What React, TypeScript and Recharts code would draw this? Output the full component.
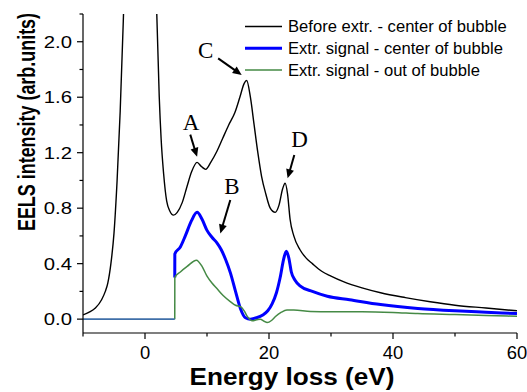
import React from 'react';
import { LineChart, Line, XAxis, YAxis, ReferenceLine, ReferenceDot, Legend } from 'recharts';

// ---- data (energy loss in eV, intensity in arb. units) ----
const beforeEnergy = [-10, -9, -8, -7, -6.4, -6, -5.5, -5, -4.5, -4, -3.5, -3, -2, -1, 0, 1, 1.5, 1.9, 2.3, 2.6, 3, 3.5, 4, 4.6, 5.2, 6, 6.8, 7.5, 8.4, 9.1, 9.8, 10.6, 11.6, 12.5, 13.5, 14.5, 15.3, 16.0, 16.4, 17, 17.6, 18.2, 18.8, 19.5, 20.2, 21.0, 21.6, 22.2, 22.6, 23.0, 23.4, 24, 25, 26, 27, 28.5, 30, 32, 35, 38, 42, 46, 50, 55, 60];
const beforeIntensity = [0.03, 0.05, 0.08, 0.14, 0.2, 0.26, 0.4, 0.62, 1.0, 1.5, 2.15, 2.9, 5, 6, 5.5, 3.8, 3.0, 2.2, 1.6, 1.3, 1.05, 0.85, 0.78, 0.75, 0.77, 0.84, 0.96, 1.06, 1.13, 1.1, 1.08, 1.13, 1.21, 1.3, 1.4, 1.49, 1.6, 1.7, 1.72, 1.6, 1.4, 1.2, 1.03, 0.9, 0.8, 0.77, 0.82, 0.94, 0.98, 0.9, 0.72, 0.6, 0.5, 0.44, 0.4, 0.345, 0.31, 0.27, 0.225, 0.19, 0.155, 0.125, 0.1, 0.08, 0.06];

const centerEnergy = [4.8, 4.81, 5.7, 6.5, 7.5, 8.4, 9.2, 10, 10.8, 11.6, 12.3, 13, 13.8, 14.6, 15.4, 16.2, 17, 18, 19, 19.8, 20.5, 21.2, 21.8, 22.4, 22.8, 23.2, 23.6, 24.2, 25, 27, 29.4, 33, 38, 44, 50, 55, 60];
const centerIntensity = [0.3, 0.47, 0.52, 0.6, 0.71, 0.77, 0.72, 0.64, 0.59, 0.55, 0.5, 0.43, 0.33, 0.2, 0.075, 0.01, 0.0, 0.01, 0.03, 0.06, 0.11, 0.19, 0.3, 0.44, 0.49, 0.44, 0.34, 0.28, 0.24, 0.2, 0.165, 0.14, 0.105, 0.077, 0.06, 0.05, 0.04];

const outEnergy = [4.8, 4.81, 5.7, 6.8, 8.3, 9.2, 10, 10.8, 11.6, 12.6, 13.8, 14.6, 15.4, 16, 16.5, 17.3, 18, 18.6, 19.2, 19.7, 20.4, 21, 22, 22.9, 24, 26.7, 30, 35, 40, 44, 50, 55, 60];
const outIntensity = [0.0, 0.3, 0.34, 0.38, 0.425, 0.38, 0.31, 0.26, 0.22, 0.17, 0.125, 0.1, 0.09, 0.06, 0.02, -0.012, -0.005, 0.0, -0.015, -0.025, -0.01, 0.017, 0.05, 0.065, 0.065, 0.055, 0.053, 0.053, 0.048, 0.04, 0.033, 0.027, 0.02];

const baselineEnergy = [-10, 4.8];
const baselineIntensity = [0, 0];

const xTicks = [-10, 0, 10, 20, 30, 40, 50, 60];
const xMajor = [0, 20, 40, 60];
const yTicks = [0, 0.2, 0.4, 0.6, 0.8, 1.0, 1.2, 1.4, 1.6, 1.8, 2.0, 2.2];
const yMajor = [0, 0.4, 0.8, 1.2, 1.6, 2.0];

const annotations = [
  { label: 'A', lx: 7.44, ly: 1.418, x1: 7.3, y1: 1.33, x2: 8.4, y2: 1.17 },
  { label: 'B', lx: 14.03, ly: 0.955, x1: 13.76, y1: 0.859, x2: 12.15, y2: 0.618 },
  { label: 'C', lx: 9.8, ly: 1.94, x1: 11.8, y1: 1.88, x2: 15.6, y2: 1.76 },
  { label: 'D', lx: 24.94, ly: 1.297, x1: 24.08, y1: 1.183, x2: 23.0, y2: 1.015 },
];

const zip = (xs: number[], ys: number[]) => xs.map((e, i) => ({ e, v: ys[i] }));

const beforeData = zip(beforeEnergy, beforeIntensity);
const centerData = zip(centerEnergy, centerIntensity);
const outData = zip(outEnergy, outIntensity);
const baselineData = zip(baselineEnergy, baselineIntensity);

const SANS = '"Liberation Sans", Arial, sans-serif';
const SERIF = '"Liberation Serif", "Times New Roman", serif';

const isMajor = (list: number[], v: number) => list.some((m) => Math.abs(m - v) < 1e-6);

const X_OFF = 14;
const XTick = (props: any) => {
  const { x, y, payload } = props;
  const v = payload.value;
  const major = isMajor(xMajor, v);
  const ay = y - X_OFF;
  return (
    <g>
      <line x1={x} x2={x} y1={ay} y2={ay + (major ? 6 : 3.5)} stroke="#000" strokeWidth={1.2} />
      {major && (
        <text
          transform={`translate(${x},${y}) scale(1.05,1)`}
          dy="0.71em"
          textAnchor="middle"
          fontSize={17.5}
          fontFamily={SANS}
          fill="#000"
        >
          {v}
        </text>
      )}
    </g>
  );
};

const Y_OFF = 11;
const YTick = (props: any) => {
  const { x, y, payload } = props;
  const v = payload.value;
  const major = isMajor(yMajor, v);
  const ax = x + Y_OFF;
  return (
    <g>
      <line x1={ax} x2={ax - (major ? 6 : 3.5)} y1={y} y2={y} stroke="#000" strokeWidth={1.2} />
      {major && (
        <text
          transform={`translate(${x},${y}) scale(1.18,1)`}
          dy="0.36em"
          textAnchor="end"
          fontSize={17.2}
          fontFamily={SANS}
          fill="#000"
        >
          {v.toFixed(1)}
        </text>
      )}
    </g>
  );
};

const Arrow = (props: any) => {
  const { x1, y1, x2, y2 } = props;
  const dx = x2 - x1;
  const dy = y2 - y1;
  const len = Math.sqrt(dx * dx + dy * dy) || 1;
  const ux = dx / len;
  const uy = dy / len;
  const hl = 9;
  const hw = 4;
  const bx = x2 - ux * hl;
  const by = y2 - uy * hl;
  const pts = `${x2},${y2} ${bx - uy * hw},${by + ux * hw} ${bx + uy * hw},${by - ux * hw}`;
  return (
    <g>
      <line x1={x1} y1={y1} x2={bx + ux * 1} y2={by + uy * 1} stroke="#000" strokeWidth={2} />
      <polygon points={pts} fill="#000" />
    </g>
  );
};

const LegendContent = (props: any) => {
  const items = (props.payload || []).filter((p: any) => p.type !== 'none');
  return (
    <svg width={285} height={72} style={{ display: 'block', overflow: 'visible' }}>
      {items.map((it: any, i: number) => {
        const cy = 13.5 + i * 21.7;
        return (
          <g key={i}>
            <line x1={5} x2={42} y1={cy} y2={cy} stroke={it.color} strokeWidth={it.payload?.strokeWidth ?? 1.5} />
            <text x={48} y={cy} dy="0.36em" fontSize={16.6} fontFamily={SANS} fill="#000">
              {it.value}
            </text>
          </g>
        );
      })}
    </svg>
  );
};

export default function App() {
  return (
    <div style={{ position: 'absolute', left: 0, top: 0, width: 527, height: 392, background: '#fff' }}>
      <LineChart width={527} height={392} margin={{ top: 14, right: 10, bottom: 0, left: 0 }}>
        <XAxis
          dataKey="e"
          type="number"
          domain={[-10, 60]}
          ticks={xTicks}
          allowDataOverflow
          height={59}
          tickLine={false}
          tickSize={0}
          tickMargin={X_OFF}
          tick={<XTick />}
          axisLine={{ stroke: '#000', strokeWidth: 1.2 }}
          interval={0}
          label={{
            content: (p: any) => {
              const vb = p.viewBox;
              return (
                <text
                  transform={`translate(${vb.x + vb.width / 2 - 8},385) scale(1.09,1)`}
                  textAnchor="middle"
                  fontSize={24}
                  fontWeight="bold"
                  fontFamily={SANS}
                  fill="#000"
                >
                  Energy loss (eV)
                </text>
              );
            },
          }}
        />
        <XAxis
          xAxisId="top"
          orientation="top"
          type="number"
          domain={[-10, 60]}
          height={0}
          tick={false}
          tickLine={false}
          axisLine={{ stroke: '#000', strokeWidth: 1.2 }}
        />
        <YAxis
          type="number"
          domain={[-0.1, 2.2]}
          ticks={yTicks}
          allowDataOverflow
          width={83}
          tickLine={false}
          tickSize={0}
          tickMargin={Y_OFF}
          tick={<YTick />}
          interval={0}
          axisLine={{ stroke: '#000', strokeWidth: 1.2 }}
          label={{
            content: () => (
              <text
                transform="translate(35, 122) rotate(-90) scale(0.78,1)"
                textAnchor="middle"
                fontSize={23}
                fontWeight="bold"
                fontFamily={SANS}
                fill="#000"
              >
                EELS intensity (arb.units)
              </text>
            ),
          }}
        />
        <YAxis
          yAxisId="right"
          orientation="right"
          type="number"
          domain={[-0.1, 2.2]}
          width={0}
          tick={false}
          tickLine={false}
          axisLine={{ stroke: '#000', strokeWidth: 1.2 }}
        />
        <Legend
          layout="vertical"
          align="center"
          verticalAlign="middle"
          content={<LegendContent />}
          wrapperStyle={{ position: 'absolute', left: 240, top: 13, width: 285, height: 72 }}
        />
        <Line
          data={beforeData}
          dataKey="v"
          name="Before extr. - center of bubble"
          type="monotone"
          stroke="#000000"
          strokeWidth={1.4}
          dot={false}
          activeDot={false}
          isAnimationActive={false}
        />
        <Line
          data={centerData}
          dataKey="v"
          name="Extr. signal - center of bubble"
          type="monotone"
          stroke="#0000ff"
          strokeWidth={3}
          dot={false}
          activeDot={false}
          isAnimationActive={false}
        />
        <Line
          data={outData}
          dataKey="v"
          name="Extr. signal - out of bubble"
          type="monotone"
          stroke="#458a45"
          strokeWidth={1.5}
          dot={false}
          activeDot={false}
          isAnimationActive={false}
        />
        <Line
          data={baselineData}
          dataKey="v"
          name="baseline"
          legendType="none"
          type="linear"
          stroke="#3f6fa8"
          strokeWidth={1.6}
          dot={false}
          activeDot={false}
          isAnimationActive={false}
        />
        {annotations.map((a) => (
          <ReferenceLine
            key={'arr' + a.label}
            segment={[
              { x: a.x1, y: a.y1 },
              { x: a.x2, y: a.y2 },
            ]}
            shape={<Arrow />}
            ifOverflow="visible"
          />
        ))}
        {annotations.map((a) => (
          <ReferenceDot
            key={'lab' + a.label}
            x={a.lx}
            y={a.ly}
            r={1}
            ifOverflow="visible"
            shape={(p: any) => (
              <text x={p.cx} y={p.cy} dy="0.34em" textAnchor="middle" fontSize={23} fontFamily={SERIF} fill="#000">
                {a.label}
              </text>
            )}
          />
        ))}
      </LineChart>
    </div>
  );
}
